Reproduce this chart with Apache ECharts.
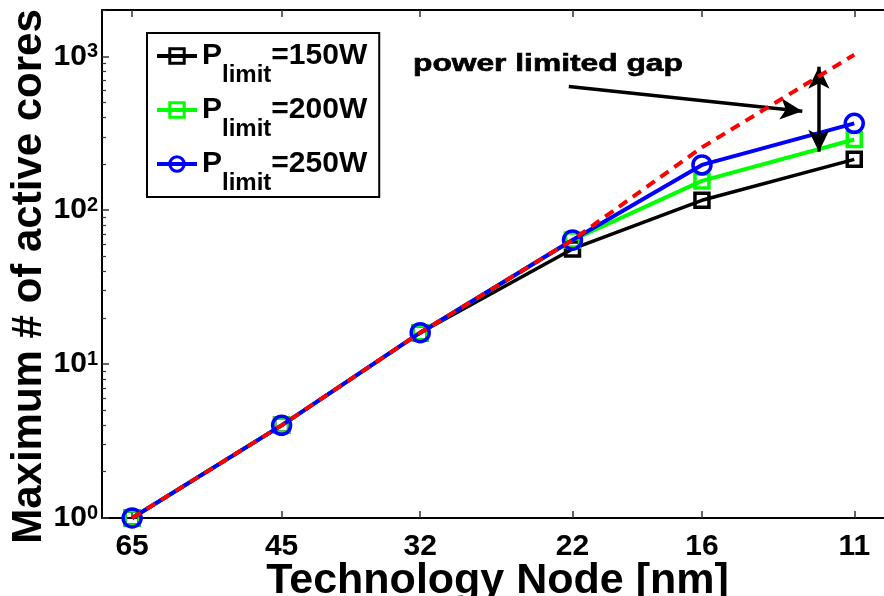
<!DOCTYPE html>
<html>
<head>
<meta charset="utf-8">
<script src="https://cdn.jsdelivr.net/npm/echarts@6/dist/echarts.min.js"></script>
<style>
  html, body { margin: 0; padding: 0; background: #fff; }
  #main { width: 884px; height: 596px; }
</style>
</head>
<body>
<div id="main"></div>
<script>
// technology nodes [nm] and max active cores per power limit
const nodes = [65, 45, 32, 22, 16, 11];
const p150 = [1, 4, 16, 56, 116, 214];
const p200 = [1, 4, 16, 64, 155, 288];
const p250 = [1, 4, 16, 64, 197, 367];
const ideal = [1, 4, 16, 64, 256, 1024];
const names = ['Plimit=150W', 'Plimit=200W', 'Plimit=250W'];
const majorTicks = [1, 10, 100, 1000];
const minorTicks = [2, 3, 4, 5, 6, 7, 8, 9, 20, 30, 40, 50, 60, 70, 80, 90,
  200, 300, 400, 500, 600, 700, 800, 900, 2000];

const FONT = 'Liberation Sans, Arial, sans-serif';

function pairs(vals) {
  return nodes.map((n, i) => [n, vals[i]]);
}

var myChart = echarts.init(document.getElementById('main'));

const xBase = {
  type: 'log',
  inverse: true,
  min: 10,
  max: 70,
  splitLine: { show: false },
  minorTick: { show: false },
  axisLine: { lineStyle: { color: '#000', width: 2 } },
  axisTick: { inside: true, length: 7, customValues: nodes, lineStyle: { color: '#333', width: 1.5 } }
};

let option = {
  animation: false,
  backgroundColor: '#fff',
  grid: { left: 102, top: 10, width: 791, height: 508, outerBoundsMode: 'none', containLabel: false },
  xAxis: [
    Object.assign({}, xBase, {
      position: 'bottom',
      axisLabel: {
        customValues: nodes,
        color: '#000', fontSize: 30, fontWeight: 'bold', fontFamily: FONT, margin: 14
      },
      name: 'Technology Node [nm]',
      nameLocation: 'middle',
      nameGap: 42,
      nameMoveOverlap: false,
      nameTextStyle: { color: '#000', fontSize: 43, fontWeight: 'bold', fontFamily: FONT }
    }),
    Object.assign({}, xBase, {
      position: 'top',
      axisLabel: { show: false }
    })
  ],
  yAxis: [
    {
      type: 'log',
      logBase: 10,
      min: 1,
      max: 2000,
      splitLine: { show: false },
      axisLine: { lineStyle: { color: '#000', width: 2 } },
      axisTick: { inside: true, length: 7, customValues: majorTicks, lineStyle: { color: '#333', width: 1.5 } },
      axisLabel: {
        customValues: majorTicks,
        margin: 4,
        formatter: function (v) {
          return '{b|10}{sup|' + Math.round(Math.log10(v)) + '}';
        },
        rich: {
          b: { fontSize: 30, fontWeight: 'bold', fontFamily: FONT, color: '#000', lineHeight: 30, verticalAlign: 'bottom' },
          sup: { fontSize: 20, fontWeight: 'bold', fontFamily: FONT, color: '#000', lineHeight: 14, verticalAlign: 'top' }
        }
      },
      name: '{t|Maximum # of active cores}{g|}',
      nameLocation: 'middle',
      nameGap: 52,
      nameMoveOverlap: false,
      nameTextStyle: {
        rich: {
          t: { color: '#000', fontSize: 42, fontWeight: 'bold', fontFamily: FONT },
          g: { width: 25 }
        }
      }
    },
    {
      type: 'log',
      logBase: 10,
      min: 1,
      max: 2000,
      position: 'left',
      splitLine: { show: false },
      axisLine: { show: false },
      axisTick: { inside: true, length: 4, customValues: minorTicks, lineStyle: { color: '#333', width: 1.2 } },
      axisLabel: { show: false }
    }
  ],
  legend: {
    data: names,
    orient: 'vertical',
    left: 147,
    top: 33,
    padding: [8, 12, 2, 8],
    itemWidth: 40,
    itemHeight: 18,
    itemGap: 8,
    selectedMode: false,
    borderColor: '#000',
    borderWidth: 2,
    backgroundColor: '#fff',
    lineStyle: { width: 4 },
    itemStyle: { borderWidth: 3 },
    formatter: function (name) {
      return '{p|P}{s|limit}{p|' + name.slice(6) + '}';
    },
    textStyle: {
      rich: {
        p: { fontSize: 30, fontWeight: 'bold', fontFamily: FONT, color: '#000', lineHeight: 30, verticalAlign: 'top' },
        s: { fontSize: 24, fontWeight: 'bold', fontFamily: FONT, color: '#000', lineHeight: 24, padding: [22, 0, 0, 0], verticalAlign: 'top' }
      }
    }
  },
  graphic: [
    {
      type: 'text',
      x: 413,
      y: 53,
      scaleX: 1.38,
      style: {
        text: 'power limited gap',
        font: 'bold 23px ' + FONT,
        fill: '#000',
        stroke: '#000',
        lineWidth: 0.6
      }
    }
  ],
  series: [
    {
      name: names[0],
      type: 'line',
      data: pairs(p150),
      symbol: 'rect',
      symbolSize: 14,
      lineStyle: { color: '#000', width: 3.5 },
      itemStyle: { color: 'rgba(0,0,0,0)', borderColor: '#000', borderWidth: 3.5 },
      z: 2
    },
    {
      name: names[1],
      type: 'line',
      data: pairs(p200),
      symbol: 'rect',
      symbolSize: 14,
      lineStyle: { color: '#00ff00', width: 4 },
      itemStyle: { color: 'rgba(0,0,0,0)', borderColor: '#00ff00', borderWidth: 3.5 },
      z: 3
    },
    {
      name: names[2],
      type: 'line',
      data: pairs(p250),
      symbol: 'circle',
      symbolSize: 18,
      lineStyle: { color: '#0000ff', width: 4 },
      itemStyle: { color: 'rgba(0,0,0,0)', borderColor: '#0000ff', borderWidth: 3.5 },
      z: 4
    },
    {
      name: 'ideal',
      type: 'line',
      data: pairs(ideal),
      symbol: 'none',
      lineStyle: { color: '#ff0000', width: 4, type: [10, 7] },
      z: 5,
      markLine: {
        silent: true,
        animation: false,
        label: { show: false },
        lineStyle: { color: '#000', width: 3.5, type: 'solid' },
        symbolSize: [16, 22],
        data: [
          [{ coord: [22.2, 637], symbol: 'none' }, { coord: [12.5, 440], symbol: 'arrow' }],
          [{ coord: [12.0, 856], symbol: 'arrow' }, { coord: [12.0, 240], symbol: 'arrow' }]
        ]
      }
    }
  ]
};
myChart.setOption(option);
</script>
</body>
</html>
